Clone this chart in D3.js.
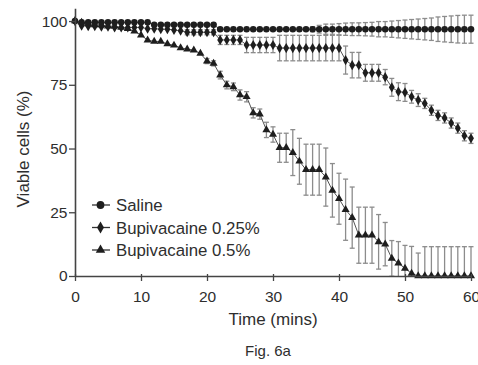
<!DOCTYPE html>
<html>
<head>
<meta charset="utf-8">
<script src="https://cdn.jsdelivr.net/npm/d3@7"></script>
<style>
  body { margin: 0; background: #fff; }
  svg { display: block; font-family: "Liberation Sans", Arial, sans-serif; }
</style>
</head>
<body>
<div id="chart"></div>
<script>
// time points (mins)
const times = [0,1,2,3,4,5,6,7,8,9,10,11,12,13,14,15,16,17,18,19,20,
  21,22,23,24,25,26,27,28,29,30,31,32,33,34,35,36,37,38,39,40,
  41,42,43,44,45,46,47,48,49,50,51,52,53,54,55,56,57,58,59,60];

// Saline
const saline = [100,99.5,99.5,99.5,99.5,99.5,99.5,99.5,99.5,99.5,99.5,
  99.5,98.5,98.5,98.5,98.5,98.5,98.5,98.5,98.5,98.5,
  98.5,96.8,96.8,96.8,96.8,96.8,96.8,96.8,96.8,96.8,
  96.8,96.8,96.8,96.8,96.8,96.8,96.8,96.8,96.8,96.8,
  96.8,96.8,96.8,96.8,96.8,96.8,96.8,96.8,96.8,96.8,
  96.8,96.8,96.8,96.8,96.8,96.8,96.8,96.8,96.8,96.8];
const salineSd = [0.5,0.5,0.5,0.5,0.5,0.5,0.5,0.5,0.5,0.5,0.5,
  0.5,0.5,0.5,0.5,0.5,0.5,0.5,0.5,0.5,0.5,
  0.5,0.5,0.5,0.5,0.5,0.5,0.5,0.5,0.5,0.5,
  0.5,0.5,0.5,0.5,0.5,1.0,1.5,2.0,2.0,2.2,
  2.4,2.5,2.5,2.6,2.7,3.0,3.0,3.2,3.4,3.6,
  3.8,4.0,4.2,4.4,4.8,5.0,5.2,5.4,5.5,5.5];

// Bupivacaine 0.25%
const bup025 = [100,98.2,98,98,97.8,97.8,97.5,97.5,97.5,97.5,97.5,
  97,97,96.8,96.8,96.5,96.2,95.6,95.6,95.6,95.6,
  95.6,92.6,92.6,92.6,92.6,90.6,90.6,90.6,90.6,90.6,
  89.4,89.4,89.4,89.4,89.4,89.4,89.4,89.4,89.4,89.4,
  84.7,82.7,82.7,79.7,79.7,79.7,78,74,72.3,72,
  70.3,69,67.7,65,63,62,60,58,55,54];
const bup025Sd = [0.5,0.5,0.5,0.5,0.5,0.5,0.5,0.5,0.5,0.5,0.5,
  0.5,0.5,0.5,0.5,0.5,0.5,1,1,1,1,
  1,1.8,1.8,1.8,1.8,3,3,3,3,3,
  5,5,5,5,5,5,5,5,5,5,
  5.5,5,5,3.3,3.3,3.3,3,3.5,3.5,3.5,
  2.5,2.5,2,2,2,2,2,2,2,2];

// Bupivacaine 0.5%
const bup05 = [100,99.5,99,98.5,98.5,98,98,97.5,97,96,94.5,
  92.5,92,92,91,90.5,89.5,89,88.6,87.3,84.3,
  83.4,78.8,74.9,74.2,71,70.3,64,63.5,57.3,55.5,
  50.3,50.3,48.4,45,41.7,41.7,41.7,38.8,33.6,30.3,
  26,22.9,16,16,16,13.4,12.5,6.9,5,3,
  1,0,0,0,0,0,0,0,0,0];
const bup05Sd = [0.5,0.5,0.5,0.5,0.5,0.5,0.5,0.5,0.5,0.5,0.5,
  0.5,0.5,0.5,0.5,0.5,0.5,0.5,0.5,0.5,1,
  1,1.5,1.5,1.5,2,2,2,2,3,3,
  5.7,5.7,9,9,10,10,10,11.4,10.5,10,
  12,12,11,11,11,10.7,8.5,7,8.5,9,
  10.6,9,11.5,11.5,11.5,11.5,11.5,11.5,11.5,11.5];

const seriesNames = ['Saline', 'Bupivacaine 0.25%', 'Bupivacaine 0.5%'];
const xTicks = [0, 10, 20, 30, 40, 50, 60];
const yTicks = [0, 25, 50, 75, 100];

const series = [
  { name: seriesNames[0], values: saline, sd: salineSd, symbol: d3.symbolCircle, size: 34 },
  { name: seriesNames[1], values: bup025, sd: bup025Sd, symbol: d3.symbolDiamond, size: 30 },
  { name: seriesNames[2], values: bup05, sd: bup05Sd, symbol: d3.symbolTriangle, size: 28 }
];

const W = 478, H = 365;
const svg = d3.select('#chart').append('svg')
  .attr('width', W).attr('height', H);

const x = d3.scaleLinear().domain([0, 60]).range([75, 471]);
const y = d3.scaleLinear().domain([0, 105]).range([276, 8.3]);

// clip to plot area so bars at zero don't go below axis
svg.append('clipPath').attr('id', 'plot')
  .append('rect').attr('x', 60).attr('y', 0).attr('width', 420).attr('height', 276);

const axisColor = '#444';
const textColor = '#2e2e2e';

// error bars
const plot = svg.append('g').attr('clip-path', 'url(#plot)');
series.forEach(s => {
  const g = plot.append('g')
    .attr('stroke', '#8c8c8c').attr('stroke-width', 1.3).attr('fill', 'none');
  times.forEach((t, i) => {
    const sd = s.sd[i];
    const cx = x(t);
    const y1 = y(s.values[i] + sd), y2 = y(s.values[i] - sd);
    if (Math.abs(y2 - y1) < 4) return;
    g.append('line').attr('x1', cx).attr('x2', cx).attr('y1', y1).attr('y2', y2);
    g.append('line').attr('x1', cx - 2.5).attr('x2', cx + 2.5).attr('y1', y1).attr('y2', y1);
    g.append('line').attr('x1', cx - 2.5).attr('x2', cx + 2.5).attr('y1', y2).attr('y2', y2);
  });
});

// lines
const line = d3.line().x((d, i) => x(times[i])).y(d => y(d));
series.forEach(s => {
  svg.append('path').datum(s.values)
    .attr('d', line)
    .attr('fill', 'none')
    .attr('stroke', '#555')
    .attr('stroke-width', 1);
});

// markers
series.forEach(s => {
  svg.append('g').selectAll('path')
    .data(s.values)
    .join('path')
    .attr('transform', (d, i) => `translate(${x(times[i])},${y(d)})`)
    .attr('d', d3.symbol().type(s.symbol).size(s.size))
    .attr('fill', '#1e1e1e');
});

// axes
const xAxis = svg.append('g')
  .attr('transform', `translate(0,${y(0)})`)
  .call(d3.axisBottom(x).tickValues(xTicks).tickSize(5).tickSizeOuter(0).tickPadding(10));
const yAxis = svg.append('g')
  .attr('transform', `translate(${x(0)},0)`)
  .call(d3.axisLeft(y).tickValues(yTicks).tickSize(6).tickSizeOuter(0).tickPadding(1.5));

[xAxis, yAxis].forEach(a => {
  a.select('.domain').attr('stroke', axisColor).attr('stroke-width', 1.6);
  a.selectAll('.tick line').attr('stroke', axisColor).attr('stroke-width', 1.3);
  a.selectAll('.tick text')
    .attr('fill', textColor)
    .style('font-size', '15.5px')
    .style('font-family', '"Liberation Sans", Arial, sans-serif');
});
// x ticks cross the axis line slightly like the original
xAxis.selectAll('.tick line').attr('y1', -2);

// axis titles
svg.append('text')
  .attr('x', 273).attr('y', 325)
  .attr('text-anchor', 'middle')
  .attr('fill', textColor)
  .style('font-size', '17px')
  .text('Time (mins)');

svg.append('text')
  .attr('transform', 'translate(28.5,149) rotate(-90)')
  .attr('text-anchor', 'middle')
  .attr('fill', textColor)
  .style('font-size', '17px')
  .text('Viable cells (%)');

svg.append('text')
  .attr('x', 268).attr('y', 356)
  .attr('text-anchor', 'middle')
  .attr('fill', textColor)
  .style('font-size', '15px')
  .text('Fig. 6a');

// legend
const legendY = [205, 227.5, 250];
series.forEach((s, i) => {
  const g = svg.append('g').attr('transform', `translate(0,${legendY[i]})`);
  g.append('line').attr('x1', 92).attr('x2', 110).attr('y1', 0).attr('y2', 0)
    .attr('stroke', '#333').attr('stroke-width', 1.3);
  g.append('path').attr('transform', 'translate(100.5,0)')
    .attr('d', d3.symbol().type(s.symbol).size(s.size * 1.4))
    .attr('fill', '#1e1e1e');
  g.append('text').attr('x', 116).attr('y', 6)
    .attr('fill', textColor)
    .style('font-size', '16.8px')
    .text(s.name);
});
</script>
</body>
</html>
